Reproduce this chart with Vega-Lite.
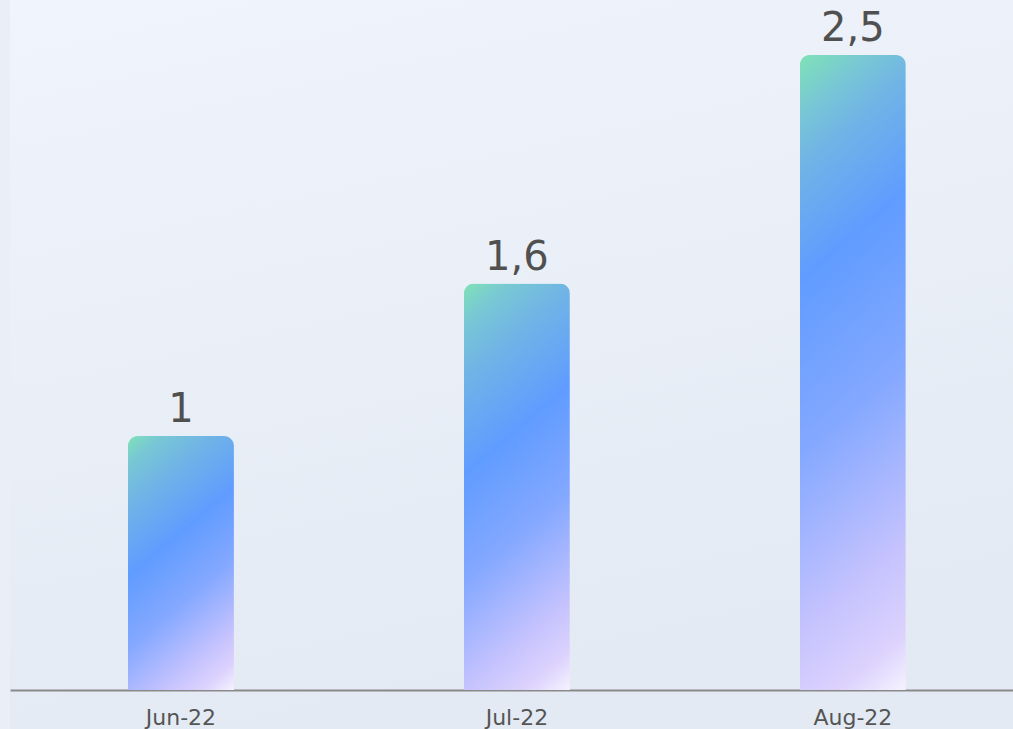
{
  "$schema": "https://vega.github.io/schema/vega-lite/v6.json",
  "width": 1003,
  "height": 729,
  "padding": {"left": 10, "top": 0, "right": 0, "bottom": 0},
  "autosize": {"type": "none"},
  "background": "#eaeff7",
  "config": {
    "view": {
      "stroke": null,
      "fill": {
        "gradient": "linear",
        "x1": 0, "y1": 0, "x2": 0.3, "y2": 1,
        "stops": [
          {"offset": 0, "color": "#f0f4fc"},
          {"offset": 1, "color": "#e3eaf3"}
        ]
      }
    }
  },
  "data": {
    "values": [
      {"month": "Jun-22", "value": 1, "label": "1"},
      {"month": "Jul-22", "value": 1.6, "label": "1,6"},
      {"month": "Aug-22", "value": 2.5, "label": "2,5"}
    ]
  },
  "encoding": {
    "x": {
      "field": "month",
      "type": "nominal",
      "scale": {
        "domain": ["Jun-22", "Jul-22", "Aug-22"],
        "paddingInner": 0.6845,
        "paddingOuter": 0.335,
        "align": 0.524
      },
      "axis": {
        "title": null,
        "offset": -39,
        "domainColor": "#8a8a8a",
        "domainWidth": 2,
        "ticks": false,
        "tickSize": 0,
        "labelAngle": 0,
        "labelFont": "DejaVu Sans",
        "labelFontSize": 22,
        "labelColor": "#555555",
        "labelPadding": 17,
        "grid": false
      }
    },
    "y": {
      "field": "value",
      "type": "quantitative",
      "scale": {"domain": [-0.1535, 2.7165], "nice": false, "zero": false},
      "axis": null
    }
  },
  "layer": [
    {
      "transform": [{"filter": "datum.month == 'Jun-22'"}],
      "mark": {
        "type": "bar",
        "cornerRadiusTopLeft": 10,
        "cornerRadiusTopRight": 10,
        "color": {
          "gradient": "linear",
          "x1": 0, "y1": 0, "x2": 0.426, "y2": 1.2033,
          "stops": [
            {"offset": 0, "color": "#80e2b6"},
            {"offset": 0.08, "color": "#78c8d4"},
            {"offset": 0.205, "color": "#70b4e6"},
            {"offset": 0.41, "color": "#609cff"},
            {"offset": 0.617, "color": "#84a8ff"},
            {"offset": 0.823, "color": "#c4c2fe"},
            {"offset": 0.92, "color": "#dcd2fd"},
            {"offset": 1, "color": "#f6f2ff"}
          ]
        }
      }
    },
    {
      "transform": [{"filter": "datum.month == 'Jul-22'"}],
      "mark": {
        "type": "bar",
        "cornerRadiusTopLeft": 10,
        "cornerRadiusTopRight": 10,
        "color": {
          "gradient": "linear",
          "x1": 0, "y1": 0, "x2": 0.2585, "y2": 1.1646,
          "stops": [
            {"offset": 0, "color": "#80e2b6"},
            {"offset": 0.08, "color": "#78c8d4"},
            {"offset": 0.19, "color": "#70b4e6"},
            {"offset": 0.385, "color": "#609cff"},
            {"offset": 0.6, "color": "#84a8ff"},
            {"offset": 0.815, "color": "#c4c2fe"},
            {"offset": 0.92, "color": "#dcd2fd"},
            {"offset": 1, "color": "#f6f2ff"}
          ]
        }
      }
    },
    {
      "transform": [{"filter": "datum.month == 'Aug-22'"}],
      "mark": {
        "type": "bar",
        "cornerRadiusTopLeft": 10,
        "cornerRadiusTopRight": 10,
        "color": {
          "gradient": "linear",
          "x1": 0, "y1": 0, "x2": 0.159, "y2": 1.1194,
          "stops": [
            {"offset": 0, "color": "#80e2b6"},
            {"offset": 0.08, "color": "#78c8d4"},
            {"offset": 0.155, "color": "#70b4e6"},
            {"offset": 0.31, "color": "#609cff"},
            {"offset": 0.55, "color": "#84a8ff"},
            {"offset": 0.793, "color": "#c4c2fe"},
            {"offset": 0.92, "color": "#dcd2fd"},
            {"offset": 1, "color": "#f6f2ff"}
          ]
        }
      }
    },
    {
      "mark": {
        "type": "text",
        "baseline": "alphabetic",
        "dy": -14,
        "font": "DejaVu Sans",
        "fontSize": 40,
        "color": "#505050"
      },
      "encoding": {"text": {"field": "label"}}
    }
  ]
}
